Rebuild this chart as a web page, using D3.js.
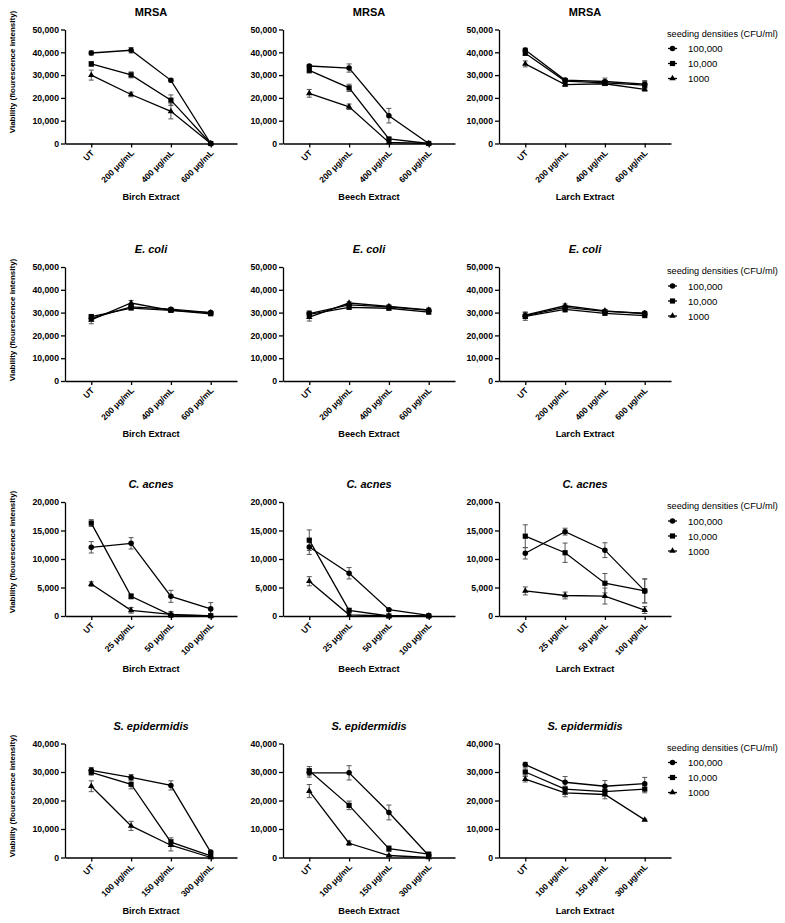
<!DOCTYPE html>
<html><head><meta charset="utf-8">
<script src="https://cdn.jsdelivr.net/npm/d3@7"></script>
<style>body{margin:0;background:#fff;} svg{display:block;font-family:"Liberation Sans",Arial,sans-serif;}</style>
</head><body>
<svg id="chart" width="785" height="923"></svg>
<script>
// ---------- data ----------
const bacteria = ["MRSA", "E. coli", "C. acnes", "S. epidermidis"];
const italicTitle = [false, true, true, true];
const extracts = ["Birch Extract", "Beech Extract", "Larch Extract"];
const densities = ["100,000", "10,000", "1000"];
const doseLabelsMRSA = ["UT", "200 μg/mL", "400 μg/mL", "600 μg/mL"];
const doseLabelsEcoli = ["UT", "200 μg/mL", "400 μg/mL", "600 μg/mL"];
const doseLabelsCacnes = ["UT", "25 μg/mL", "50 μg/mL", "100 μg/mL"];
const doseLabelsSepi = ["UT", "100 μg/mL", "150 μg/mL", "300 μg/mL"];
const yMaxByRow = [50000, 50000, 20000, 40000];
const yTicksMRSA = [0, 10000, 20000, 30000, 40000, 50000];
const yTicksEcoli = [0, 10000, 20000, 30000, 40000, 50000];
const yTicksCacnes = [0, 5000, 10000, 15000, 20000];
const yTicksSepi = [0, 10000, 20000, 30000, 40000];

// means: rows = densities (100,000 / 10,000 / 1000), columns = doses
const mrsaBirch = [[39700, 40900, 27700, 0], [34900, 30100, 19000, 0], [30000, 21500, 14100, 0]];
const mrsaBirchErr = [[900, 1200, 700, 0], [1000, 1300, 2300, 0], [2200, 1000, 3300, 0]];
const mrsaBeech = [[34000, 33100, 12200, 0], [32100, 24400, 2000, 0], [22000, 16100, 500, 0]];
const mrsaBeechErr = [[600, 1800, 3200, 0], [1200, 1600, 500, 0], [1700, 1200, 300, 0]];
const mrsaLarch = [[41000, 27800, 27200, 26000], [39600, 27400, 26600, 25600], [34900, 25800, 26200, 23700]];
const mrsaLarchErr = [[800, 800, 1500, 1600], [1000, 900, 1000, 1600], [1300, 800, 800, 700]];

const ecoliBirch = [[27500, 32500, 31500, 30000], [28200, 32000, 31000, 29500], [26800, 34200, 31000, 30000]];
const ecoliBirchErr = [[1200, 600, 500, 600], [1000, 600, 500, 700], [1700, 1100, 600, 500]];
const ecoliBeech = [[29600, 33400, 32500, 31000], [29200, 32300, 31900, 30200], [28000, 34200, 32700, 31200]];
const ecoliBeechErr = [[1000, 600, 500, 600], [1500, 600, 600, 700], [1700, 600, 700, 800]];
const ecoliLarch = [[28700, 32300, 30500, 29800], [28300, 31400, 29700, 28700], [28900, 33000, 30800, 29500]];
const ecoliLarchErr = [[1300, 600, 800, 600], [1700, 1200, 700, 600], [1400, 800, 600, 500]];

const cacnesBirch = [[12050, 12750, 3450, 1250], [16300, 3450, 150, 50], [5600, 1000, 300, 0]];
const cacnesBirchErr = [[1000, 1000, 1050, 1100], [600, 450, 300, 100], [400, 500, 500, 100]];
const cacnesBeech = [[12100, 7500, 1100, 100], [13300, 1000, 0, 0], [6100, 200, 0, 0]];
const cacnesBeechErr = [[1300, 1000, 200, 100], [1800, 300, 100, 100], [800, 200, 100, 50]];
const cacnesLarch = [[11000, 14800, 11550, 4400], [14000, 11100, 5750, 4400], [4400, 3600, 3500, 1050]];
const cacnesLarchErr = [[1000, 600, 1300, 2100], [2000, 1700, 1700, 2100], [700, 600, 1400, 600]];

const sepiBirch = [[30600, 28100, 25300, 1900], [29900, 25700, 5400, 600], [25000, 11100, 4300, 0]];
const sepiBirchErr = [[1000, 1000, 1600, 300], [1000, 1600, 1500, 300], [1900, 1600, 2000, 200]];
const sepiBeech = [[29700, 29700, 15800, 700], [30400, 18300, 3100, 1200], [23300, 5000, 700, 0]];
const sepiBeechErr = [[1500, 2500, 2600, 300], [1500, 1500, 1000, 300], [2300, 800, 200, 100]];
const sepiLarch = [[32600, 26400, 25000, 25900], [30000, 24000, 23100, 24000], [27500, 22700, 22100, 13200]];
const sepiLarchErr = [[800, 2000, 2000, 2200], [1400, 1000, 1000, 1300], [1000, 1400, 1500, 300]];

// ---------- assembly ----------
const doseLabels = [doseLabelsMRSA, doseLabelsEcoli, doseLabelsCacnes, doseLabelsSepi];
const yTicks = [yTicksMRSA, yTicksEcoli, yTicksCacnes, yTicksSepi];
const means = [[mrsaBirch, mrsaBeech, mrsaLarch], [ecoliBirch, ecoliBeech, ecoliLarch],
               [cacnesBirch, cacnesBeech, cacnesLarch], [sepiBirch, sepiBeech, sepiLarch]];
const errs = [[mrsaBirchErr, mrsaBeechErr, mrsaLarchErr], [ecoliBirchErr, ecoliBeechErr, ecoliLarchErr],
              [cacnesBirchErr, cacnesBeechErr, cacnesLarchErr], [sepiBirchErr, sepiBeechErr, sepiLarchErr]];

// ---------- layout ----------
const colX = [65, 283, 499];
const rowTop = [29.5, 267, 502, 743.5];
const plotW = 172, plotH = 114;
const yLabelCenter = [72, 320, 552, 796];
const legendX = 667;
const FONT = '"Liberation Sans", Arial, sans-serif';

const svg = d3.select("#chart");
const symbols = [d3.symbolCircle, d3.symbolSquare, d3.symbolTriangle];
const symSizes = [24, 27, 18];

for (let r = 0; r < 4; r++) {
  for (let c = 0; c < 3; c++) {
    const x0 = colX[c], top = rowTop[r], bottom = top + plotH;
    const x = d3.scalePoint().domain(doseLabels[r]).range([x0, x0 + plotW]).padding(0.66);
    const y = d3.scaleLinear().domain([0, yMaxByRow[r]]).range([bottom, top]);
    const g = svg.append("g");

    // y axis
    const ya = g.append("g").attr("transform", `translate(${x0},0)`)
      .call(d3.axisLeft(y).tickValues(yTicks[r]).tickFormat(d3.format(",")).tickSize(4).tickSizeOuter(0).tickPadding(2));
    ya.selectAll("path,line").attr("stroke", "#000").attr("stroke-width", 1.3);
    ya.selectAll("text").attr("font-family", FONT).attr("font-weight", "bold").attr("font-size", 8.7).attr("fill", "#000");

    // x axis
    const xa = g.append("g").attr("transform", `translate(0,${bottom})`)
      .call(d3.axisBottom(x).tickSize(4).tickSizeOuter(0));
    xa.selectAll("path,line").attr("stroke", "#000").attr("stroke-width", 1.3);
    xa.selectAll("text").attr("font-family", FONT).attr("font-weight", "bold").attr("font-size", 8.5).attr("fill", "#000")
      .attr("x", 0).attr("y", 0).attr("dy", 0).attr("text-anchor", "end")
      .attr("transform", "translate(3,10) rotate(-45)");

    // title
    g.append("text").attr("x", x0 + plotW / 2).attr("y", top - 14).attr("text-anchor", "middle")
      .attr("font-family", FONT).attr("font-weight", "bold").attr("font-size", 11)
      .attr("font-style", italicTitle[r] ? "italic" : "normal").text(bacteria[r]);

    // x axis title
    g.append("text").attr("x", x0 + plotW / 2).attr("y", bottom + 56).attr("text-anchor", "middle")
      .attr("font-family", FONT).attr("font-weight", "bold").attr("font-size", 9.2).text(extracts[c]);

    // y axis title
    if (c === 0) {
      g.append("text").attr("transform", `translate(15,${yLabelCenter[r]}) rotate(-90)`).attr("text-anchor", "middle")
        .attr("font-family", FONT).attr("font-weight", "bold").attr("font-size", 8)
        .text("Viability (flourescence intensity)");
    }

    const M = means[r][c], E = errs[r][c];
    // error bars
    M.forEach((series, s) => {
      series.forEach((v, i) => {
        const e = E[s][i];
        if (!e) return;
        const cx = x(doseLabels[r][i]);
        const lo = Math.max(0, v - e);
        g.append("line").attr("x1", cx).attr("x2", cx).attr("y1", y(lo)).attr("y2", y(v + e))
          .attr("stroke", "#555").attr("stroke-width", 1);
        g.append("line").attr("x1", cx - 2.5).attr("x2", cx + 2.5).attr("y1", y(v + e)).attr("y2", y(v + e))
          .attr("stroke", "#555").attr("stroke-width", 1);
        if (v - e > 0) g.append("line").attr("x1", cx - 2.5).attr("x2", cx + 2.5).attr("y1", y(v - e)).attr("y2", y(v - e))
          .attr("stroke", "#555").attr("stroke-width", 1);
      });
    });
    // lines + markers
    const line = d3.line().x((d, i) => x(doseLabels[r][i])).y(d => y(d));
    M.forEach((series, s) => {
      g.append("path").attr("d", line(series)).attr("fill", "none").attr("stroke", "#000").attr("stroke-width", 1.3);
    });
    M.forEach((series, s) => {
      series.forEach((v, i) => {
        g.append("path").attr("d", d3.symbol().type(symbols[s]).size(symSizes[s])())
          .attr("transform", `translate(${x(doseLabels[r][i])},${y(v)})`).attr("fill", "#000");
      });
    });

    // legend
    if (c === 2) {
      const lg = g.append("g").attr("transform", `translate(${legendX},${top + 7})`);
      lg.append("text").attr("x", 0).attr("y", 0).attr("font-family", FONT).attr("font-size", 9.2).text("seeding densities (CFU/ml)");
      densities.forEach((d, s) => {
        const yy = 15 * (s + 1) - 3;
        lg.append("line").attr("x1", 1).attr("x2", 10).attr("y1", yy).attr("y2", yy).attr("stroke", "#000").attr("stroke-width", 1.3);
        lg.append("path").attr("d", d3.symbol().type(symbols[s]).size(symSizes[s])()).attr("transform", `translate(5.5,${yy})`);
        lg.append("text").attr("x", 21).attr("y", yy + 3.5).attr("font-family", FONT).attr("font-size", 9.6).text(d);
      });
    }
  }
}
</script>
</body></html>
